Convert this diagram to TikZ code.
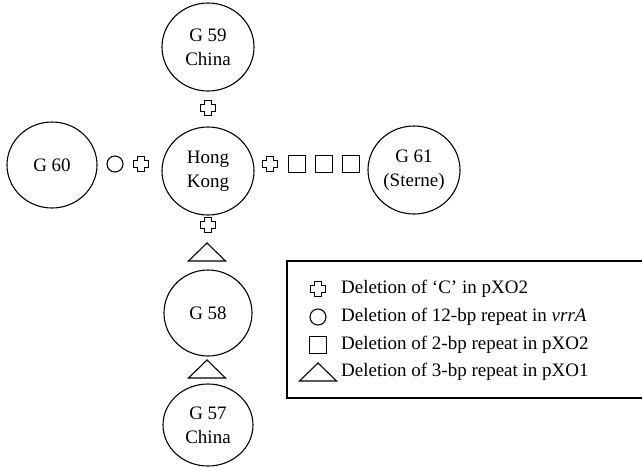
\documentclass[tikz,border=0pt]{standalone}
\usepackage{fontspec}
\setmainfont{Liberation Serif}
\usetikzlibrary{shapes.geometric}

\tikzset{
  strain/.style={draw, ellipse, line width=1.1pt, inner sep=0pt,
    minimum width=92pt, minimum height=88pt, align=center,
    font=\fontsize{19}{24}\selectfont},
  delcirc/.style={draw, circle, line width=1.1pt, inner sep=0pt, minimum size=16pt},
  delsq/.style={draw, rectangle, line width=1.1pt, inner sep=0pt, minimum size=17pt},
  legtext/.style={anchor=west, inner sep=0pt, font=\fontsize{19}{22}\selectfont},
  pics/delc/.style={code={
    \draw[line width=1.1pt] (-3.5,-7.5) -- (3.5,-7.5) -- (3.5,-3.5) -- (7.5,-3.5) -- (7.5,3.5) -- (3.5,3.5)
      -- (3.5,7.5) -- (-3.5,7.5) -- (-3.5,3.5) -- (-7.5,3.5) -- (-7.5,-3.5) -- (-3.5,-3.5) -- cycle;}},
  pics/deltri/.style={code={
    \draw[line width=1.1pt] (-18.5,9) -- (18.5,9) -- (0,-9) -- cycle;}}
}

\begin{document}
\begin{tikzpicture}[x=1pt, y=-1pt]
        \useasboundingbox (0,0) rectangle (642,467);

        % strains
        \node[strain] (g59) at (208,47) {G 59\\China};
        \node[strain] (hk) at (208,171) {Hong\\Kong};
        \node[strain, minimum width=90pt, minimum height=86pt] (g60) at (52,165) {G 60};
        \node[strain] (g61) at (414,170) {G 61\\(Sterne)};
        \node[strain, minimum width=88pt, minimum height=86pt] (g58) at (208,313) {G 58};
        \node[strain, minimum width=90pt, minimum height=82pt] (g57) at (208,425) {G 57\\China};

        % changes between strains
        \pic at (208,108) {delc};
        \node[delcirc] (c1) at (115,164) {};
        \pic at (141,164) {delc};
        \pic at (270,164) {delc};
        \node[delsq] (s1) at (297,164) {};
        \node[delsq] (s2) at (324,164) {};
        \node[delsq] (s3) at (351,164) {};
        \pic at (208,225) {delc};
        \pic at (207,252) {deltri};
        \pic at (207,369) {deltri};

        % legend
        \draw[line width=1.1pt] (642,261) -| (287,398) -- (642,398);
        \pic at (318,289) {delc};
        \node[delcirc] (lc) at (318,317) {};
        \node[delsq] (ls) at (318,345) {};
        \pic at (318,372) {deltri};
        \node[legtext] (l1) at (341,289) {Deletion of ‘C’ in pXO2};
        \node[legtext] (l2) at (341,317) {Deletion of 12-bp repeat in \textit{vrrA}};
        \node[legtext] (l3) at (341,345) {Deletion of 2-bp repeat in pXO2};
        \node[legtext] (l4) at (341,372) {Deletion of 3-bp repeat in pXO1};
    \end{tikzpicture}
\end{document}
